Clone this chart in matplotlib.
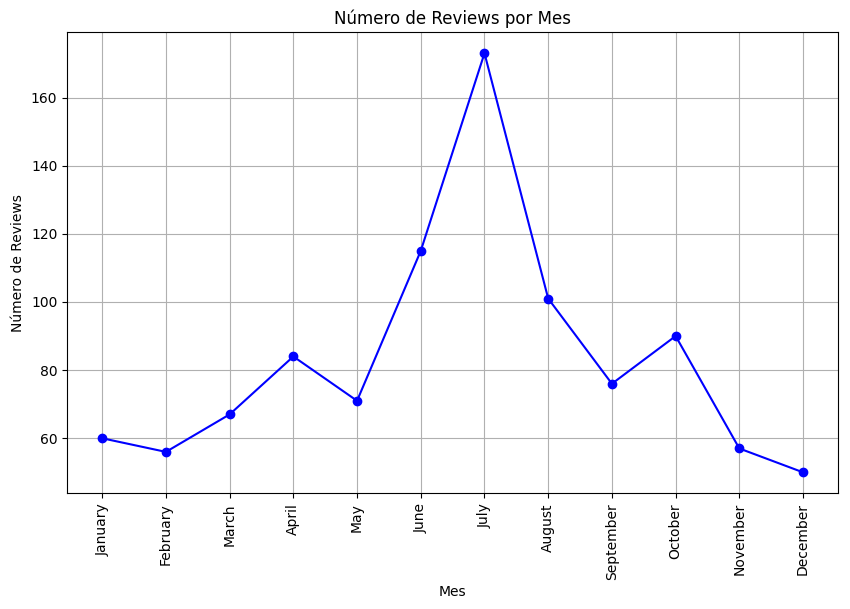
import matplotlib
matplotlib.use('Agg')
import matplotlib.pyplot as plt

# datos
meses = ['January', 'February', 'March', 'April', 'May', 'June',
         'July', 'August', 'September', 'October', 'November', 'December']
reviews = [60, 56, 67, 84, 71, 115, 173, 101, 76, 90, 57, 50]

fig, ax = plt.subplots(figsize=(8.5, 6.09), dpi=100)
fig.subplots_adjust(left=0.079, right=0.986, top=0.947, bottom=0.190)

ax.plot(meses, reviews, marker='o', color='blue', linestyle='-')
ax.set_title('Número de Reviews por Mes')
ax.set_xlabel('Mes')
ax.set_ylabel('Número de Reviews')
ax.tick_params(axis='x', rotation=90)
ax.grid(True)

plt.savefig('out.png', dpi=100)
